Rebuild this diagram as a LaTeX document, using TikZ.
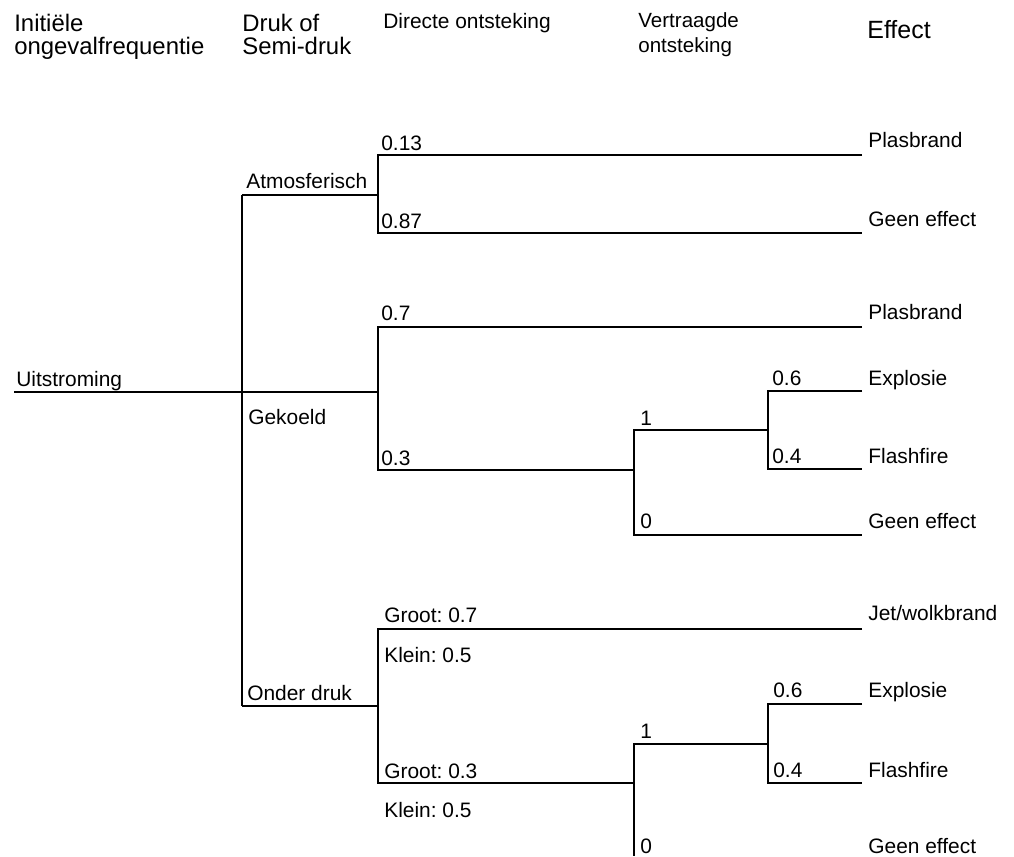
\documentclass[tikz,border=0pt]{standalone}
\usepackage{fontspec}
\setmainfont{Liberation Sans}
\usepackage{tikz}
\frenchspacing

\begin{document}
\begin{tikzpicture}[
    x=0.02cm, y=-0.02cm,
    font=\fontsize{11.9}{14}\selectfont,
    lbl/.style={anchor=base west, inner sep=0pt},
    hdrA/.style={lbl, font=\fontsize{13.6}{16}\selectfont},
    hdrB/.style={lbl, font=\fontsize{11.9}{14}\selectfont},
    hdrC/.style={lbl, font=\fontsize{11.7}{14}\selectfont},
    hdrD/.style={lbl, font=\fontsize{14.2}{17}\selectfont},
    branch/.style={line width=0.9pt}
]
\useasboundingbox (0,0) rectangle (1014,856);

\node[hdrA] (hIni) at (14,31) {Initiële};
\node[hdrA] (hOng) at (14,54) {ongevalfrequentie};
\node[hdrA] (hDruk) at (242,31) {Druk of};
\node[hdrA] (hSemi) at (242,54) {Semi-druk};
\node[hdrB] (hDir) at (383,28) {Directe ontsteking};
\node[hdrC] (hVer) at (638,27) {Vertraagde};
\node[hdrC] (hOnt) at (638,52) {ontsteking};
\node[hdrD] (hEff) at (867,38) {Effect};

\coordinate (uit) at (14,392);
\coordinate (dAtm) at (242,195);
\coordinate (dGek) at (242,392);
\coordinate (dOnd) at (242,706);

\coordinate (atm) at (378,195);
\coordinate (atmA) at (378,155);
\coordinate (atmB) at (378,233);
\coordinate (atmAe) at (862,155);
\coordinate (atmBe) at (862,233);

\coordinate (gek) at (378,392);
\coordinate (gekA) at (378,327);
\coordinate (gekAe) at (862,327);
\coordinate (gekB) at (378,470);
\coordinate (gekV) at (634,470);
\coordinate (gekV1) at (634,430);
\coordinate (gekV0) at (634,535);
\coordinate (gekV0e) at (862,535);
\coordinate (gekE) at (768,430);
\coordinate (gekE1) at (768,391);
\coordinate (gekE2) at (768,469);
\coordinate (gekE1e) at (862,391);
\coordinate (gekE2e) at (862,469);

\coordinate (ond) at (378,706);
\coordinate (ondA) at (378,629);
\coordinate (ondAe) at (862,629);
\coordinate (ondB) at (378,783);
\coordinate (ondV) at (634,783);
\coordinate (ondV1) at (634,744);
\coordinate (ondV0) at (634,856);
\coordinate (ondE) at (768,744);
\coordinate (ondE1) at (768,704);
\coordinate (ondE2) at (768,783);
\coordinate (ondE1e) at (862,704);
\coordinate (ondE2e) at (862,783);

\draw[branch] (uit) -- (dGek);
\draw[branch] (dAtm) -- (dOnd);
\draw[branch] (dAtm) -- (atm);
\draw[branch] (dGek) -- (gek);
\draw[branch] (dOnd) -- (ond);
\draw[branch] (atmAe) -- (atmA) -- (atmB) -- (atmBe);
\draw[branch] (gekAe) -- (gekA) -- (gekB) -- (gekV);
\draw[branch] (gekE) -- (gekV1) -- (gekV0) -- (gekV0e);
\draw[branch] (gekE1e) -- (gekE1) -- (gekE2) -- (gekE2e);
\draw[branch] (ondAe) -- (ondA) -- (ondB) -- (ondV);
\draw[branch] (ondE) -- (ondV1) -- (ondV0);
\draw[branch] (ondE1e) -- (ondE1) -- (ondE2) -- (ondE2e);

\node[lbl] (lUit) at (16,386) {Uitstroming};
\node[lbl] (lAtm) at (246,188) {Atmosferisch};
\node[lbl] (lGek) at (248,424) {Gekoeld};
\node[lbl] (lOnd) at (247,700) {Onder druk};

\node[lbl] (pAtmA) at (381,150) {0.13};
\node[lbl] (pAtmB) at (381,228) {0.87};
\node[lbl] (pGekA) at (381,320) {0.7};
\node[lbl] (pGekB) at (381,465) {0.3};
\node[lbl] (pGekV1) at (640,425) {1};
\node[lbl] (pGekV0) at (640,528) {0};
\node[lbl] (pGekE1) at (772,385) {0.6};
\node[lbl] (pGekE2) at (772,463) {0.4};

\node[lbl] (pOndA) at (384,622) {Groot: 0.7};
\node[lbl] (pOndAk) at (384,662) {Klein: 0.5};
\node[lbl] (pOndB) at (384,778) {Groot: 0.3};
\node[lbl] (pOndBk) at (384,817) {Klein: 0.5};
\node[lbl] (pOndV1) at (640,738) {1};
\node[lbl] (pOndV0) at (640,853) {0};
\node[lbl] (pOndE1) at (773,697) {0.6};
\node[lbl] (pOndE2) at (773,777) {0.4};

\node[lbl] (eAtmA) at (868,147) {Plasbrand};
\node[lbl] (eAtmB) at (868,226) {Geen effect};
\node[lbl] (eGekA) at (868,319) {Plasbrand};
\node[lbl] (eGekE1) at (868,385) {Explosie};
\node[lbl] (eGekE2) at (868,463) {Flashfire};
\node[lbl] (eGekV0) at (868,528) {Geen effect};
\node[lbl] (eOndA) at (868,620) {Jet/wolkbrand};
\node[lbl] (eOndE1) at (868,697) {Explosie};
\node[lbl] (eOndE2) at (868,777) {Flashfire};
\node[lbl] (eOndV0) at (868,853) {Geen effect};
\end{tikzpicture}
\end{document}
